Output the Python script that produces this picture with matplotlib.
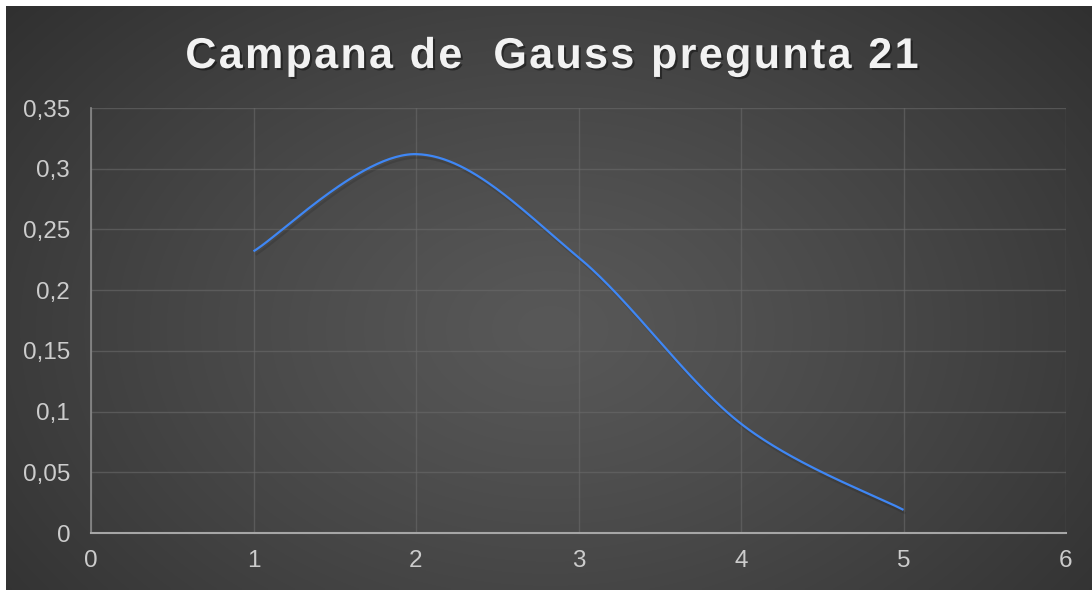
import numpy as np
import matplotlib
matplotlib.use("Agg")
import matplotlib.pyplot as plt
import matplotlib.patheffects as pe

# Data
x_vals = [1, 2, 3, 4, 5]
y_vals = [0.232, 0.312, 0.227, 0.090, 0.019]
title = "Campana de  Gauss pregunta 21"
y_ticks = [0, 0.05, 0.1, 0.15, 0.2, 0.25, 0.3, 0.35]
y_tick_labels = ["0", "0,05", "0,1", "0,15", "0,2", "0,25", "0,3", "0,35"]
x_ticks = [0, 1, 2, 3, 4, 5, 6]

W, H = 1092, 590
fig = plt.figure(figsize=(W / 100, H / 100), dpi=100)
fig.patch.set_facecolor("white")

# background radial gradient
bg = fig.add_axes([6 / W, 0, 1 - 6 / W, 1 - 6 / H])
bg.set_axis_off()
yy, xx = np.mgrid[0:200, 0:400]
cx, cy = 200, 110
d = np.sqrt(((xx - cx) / 230.0) ** 2 + ((yy - cy) / 150.0) ** 2)
d = np.clip(d, 0, 1.4) / 1.4
val = 0.345 - 0.2 * d ** 1.2
img = np.dstack([val, val, val])
bg.imshow(img, aspect="auto", extent=[0, 1, 0, 1], interpolation="bilinear")
bg.set_xlim(0, 1)
bg.set_ylim(0, 1)

ax = fig.add_axes([91 / W, 57 / H, (1066 - 91) / W, (533 - 108) / H])
ax.patch.set_alpha(0)


def smooth(xs, ys, n=60):
    P = np.column_stack([xs, ys]).astype(float)
    Pe = np.vstack([P[0], P, P[-1]])
    out = []
    for i in range(len(P) - 1):
        p0, p1, p2, p3 = Pe[i], Pe[i + 1], Pe[i + 2], Pe[i + 3]
        c1 = p1 + (p2 - p0) / 6.0
        c2 = p2 - (p3 - p1) / 6.0
        t = np.linspace(0, 1, n)[:, None]
        seg = ((1 - t) ** 3) * p1 + 3 * ((1 - t) ** 2) * t * c1 + 3 * (1 - t) * t ** 2 * c2 + t ** 3 * p2
        out.append(seg if i == 0 else seg[1:])
    out = np.vstack(out)
    return out[:, 0], out[:, 1]


sx, sy = smooth(x_vals, y_vals)
ax.plot(sx, sy, color="#3f87f5", lw=1.6, solid_capstyle="butt", zorder=5,
        path_effects=[pe.SimpleLineShadow(offset=(1.5, -2.5), shadow_color="black", alpha=0.12), pe.Normal()])

ax.set_xlim(0, 6)
ax.set_ylim(0, 0.35)
ax.set_xticks(x_ticks)
ax.set_xticklabels([str(v) for v in x_ticks])
ax.set_yticks(y_ticks)
ax.set_yticklabels(y_tick_labels)
ax.grid(True, color="#6a6a6a", lw=1.0, alpha=0.6)
ax.set_axisbelow(True)
for s in ["top", "right"]:
    ax.spines[s].set_visible(False)
ax.spines["left"].set_color("#8a8a8a")
ax.spines["left"].set_linewidth(1.2)
ax.spines["bottom"].set_color("#a6a6a6")
ax.spines["bottom"].set_linewidth(1.5)
ax.tick_params(axis="both", length=0, colors="#cccccc", labelsize=17.5,
               labelcolor="#cccccc")
ax.tick_params(axis="y", pad=15)
ax.tick_params(axis="x", pad=12)
for lab in ax.get_xticklabels() + ax.get_yticklabels():
    lab.set_fontfamily("Liberation Sans")

# Title with letter spacing, drawn char by char
fig.canvas.draw()
renderer = fig.canvas.get_renderer()
fs = 31
spacing = 2.4  # px
font = dict(fontsize=fs, fontweight="bold", family="Liberation Sans", color="#f2f2f2")
widths = []
for ch in title:
    if ch == " ":
        t = fig.text(0, 0, "a a", **font)
        w_full = t.get_window_extent(renderer).width
        t.remove()
        t = fig.text(0, 0, "aa", **font)
        w2 = t.get_window_extent(renderer).width
        t.remove()
        widths.append(w_full - w2)
    else:
        t = fig.text(0, 0, ch, **font)
        widths.append(t.get_window_extent(renderer).width)
        t.remove()
total = sum(widths) + spacing * (len(title) - 1)
x0 = 552 - total / 2
ybase = H - 68
xpos = x0
for ch, w in zip(title, widths):
    if ch != " ":
        fig.text(xpos / W, ybase / H, ch, ha="left", va="baseline", **font,
                 path_effects=[pe.withSimplePatchShadow(offset=(1.5, -1.5), shadow_rgbFace="black", alpha=0.4)])
    xpos += w + spacing

fig.savefig("out.png", dpi=100, facecolor=fig.get_facecolor())
